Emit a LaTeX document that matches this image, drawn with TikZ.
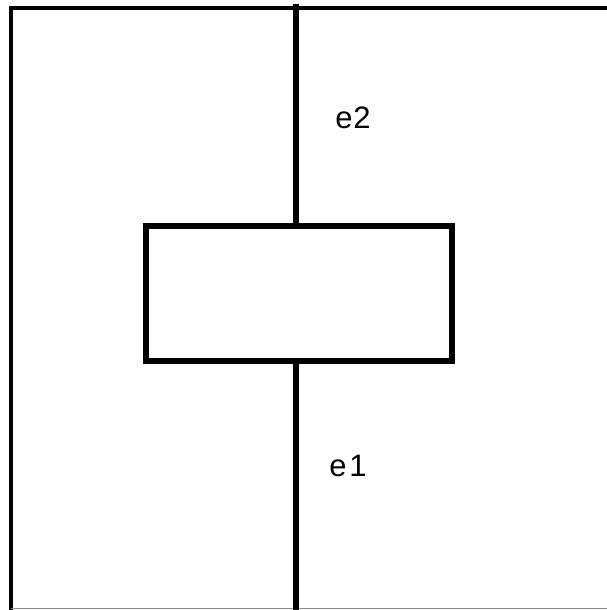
\documentclass[tikz,border=0pt]{standalone}
\usepackage{fontspec}
\setmainfont{Liberation Sans}
\begin{document}
\begin{tikzpicture}[x=1pt,y=-1pt,
  frame/.style={line width=4pt},
  edge/.style={line width=5.5pt},
  boxst/.style={draw,line width=5.5pt,minimum width=306pt,minimum height=135pt,inner sep=0pt},
  lab/.style={font=\fontsize{31}{31}\selectfont,inner sep=0pt}]
\useasboundingbox (0,0) rectangle (607,610);
\coordinate (tl) at (11,8.5);
\coordinate (tr) at (607,8.5);
\coordinate (bl) at (11,610);
\coordinate (br) at (607,608.5);
\coordinate (bl2) at (11,608.5);
\draw[frame] (tr) -- (tl) -- (bl);
\draw[line width=0.8pt,black!45] (bl2) -- (br);
\node[boxst] (box) at (299,293.5) {};
\coordinate (top) at (296,4);
\coordinate (bot) at (296,610);
\draw[edge] (top) -- (top|-box.north);
\draw[edge] (bot|-box.south) -- (bot);
\node[lab] (e2) at (353,118) {e\kern1pt2};
\node[lab] (e1) at (348,466) {e\kern3pt1};
\end{tikzpicture}
\end{document}
